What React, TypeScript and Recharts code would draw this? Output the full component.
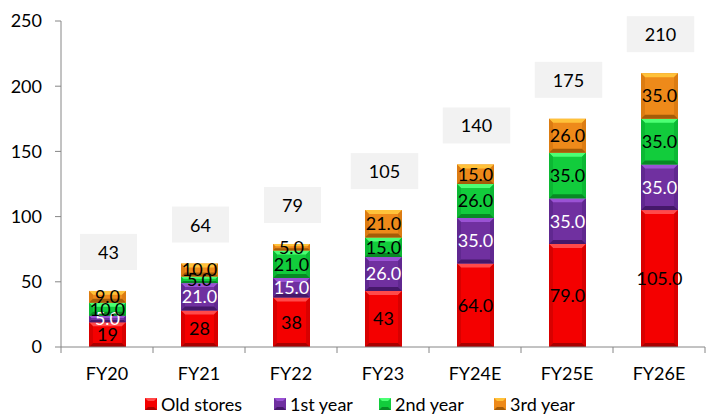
import React from "react";
import { BarChart, Bar, XAxis, YAxis, Legend, LabelList } from "recharts";

const categories = ["FY20", "FY21", "FY22", "FY23", "FY24E", "FY25E", "FY26E"];
const oldStores = [19, 28, 38, 43, 64, 79, 105];
const oldStoreLabels = ["19", "28", "38", "43", "64.0", "79.0", "105.0"];
const firstYear = [5, 21, 15, 26, 35, 35, 35];
const secondYear = [10, 5, 21, 15, 26, 35, 35];
const thirdYear = [9, 10, 5, 21, 15, 26, 35];
const totals = [43, 64, 79, 105, 140, 175, 210];
const yTicks = [0, 50, 100, 150, 200, 250];

const FONT = "Lato, 'Open Sans', sans-serif";

const data = categories.map((c, i) => ({
  name: c,
  old: oldStores[i],
  oldLabel: oldStoreLabels[i],
  y1: firstYear[i],
  y2: secondYear[i],
  y3: thirdYear[i],
  total: totals[i],
}));

interface Tone {
  main: string;
  light: string;
  side: string;
  dark: string;
}

const TONES: Record<string, Tone> = {
  old: { main: "#f40000", light: "#ff4a4a", side: "#d80000", dark: "#a80000" },
  y1: { main: "#7030a0", light: "#9a52d4", side: "#602890", dark: "#45186a" },
  y2: { main: "#12cc3c", light: "#4cff74", side: "#0cb834", dark: "#078a24" },
  y3: { main: "#ee8a1a", light: "#ffc23a", side: "#dc7c12", dark: "#a55c08" },
};

function bevel(tone: Tone) {
  return (props: any) => {
    const { x, y, width: w, height: h } = props;
    if (!h || h <= 0) return null;
    const b = Math.min(4, h / 3);
    return (
      <g>
        <rect x={x} y={y} width={w} height={h} fill={tone.main} />
        <polygon points={`${x},${y} ${x + w},${y} ${x + w - b},${y + b} ${x + b},${y + b}`} fill={tone.light} />
        <polygon points={`${x},${y} ${x + b},${y + b} ${x + b},${y + h - b} ${x},${y + h}`} fill={tone.side} />
        <polygon points={`${x + w},${y} ${x + w - b},${y + b} ${x + w - b},${y + h - b} ${x + w},${y + h}`} fill={tone.side} />
        <polygon points={`${x},${y + h} ${x + b},${y + h - b} ${x + w - b},${y + h - b} ${x + w},${y + h}`} fill={tone.dark} />
      </g>
    );
  };
}

function TotalLabel(props: any) {
  const { x, y, width, index } = props;
  const text = String(totals[index]);
  const bw = text.length * 10.5 + 36;
  const bh = 36;
  const cx = x + width / 2 + 1;
  const cy = y - 39;
  return (
    <g>
      <rect x={cx - bw / 2} y={cy - bh / 2} width={bw} height={bh} fill="#f2f2f2" />
      <text x={cx} y={cy} textAnchor="middle" dominantBaseline="central" fontSize={18} fontFamily={FONT} fill="#000">
        {text}
      </text>
    </g>
  );
}

function XTick(props: any) {
  const { x, y, payload, index } = props;
  const half = 46;
  return (
    <g>
      <line x1={x - half} x2={x - half} y1={y - 8} y2={y - 2} stroke="#868686" />
      {index === categories.length - 1 && (
        <line x1={x + half} x2={x + half} y1={y - 8} y2={y - 2} stroke="#868686" />
      )}
      <text x={x} y={y + 18} textAnchor="middle" dominantBaseline="central" fontSize={18} fontFamily={FONT} fill="#000">
        {payload.value}
      </text>
    </g>
  );
}

const legendItems = [
  { key: "old", label: "Old stores", w: 129 },
  { key: "y1", label: "1st year", w: 105 },
  { key: "y2", label: "2nd year", w: 115 },
  { key: "y3", label: "3rd year", w: 100 },
];

function LegendBox() {
  return (
    <div style={{ height: 39, position: "relative", fontFamily: FONT, fontSize: 18 }}>
      <div style={{ position: "absolute", left: 145, top: 16, display: "flex", alignItems: "center" }}>
        {legendItems.map((it) => {
          const t = TONES[it.key];
          return (
            <div key={it.key} style={{ width: it.w, display: "flex", alignItems: "center" }}>
              <svg width={12} height={12} style={{ marginRight: 4 }}>
                <rect x={0} y={0} width={12} height={12} fill={t.main} />
                <polygon points="0,0 12,0 9,3 3,3" fill={t.light} />
                <polygon points="0,12 3,9 9,9 12,12" fill={t.dark} />
              </svg>
              <span style={{ color: "#000", lineHeight: "22px" }}>{it.label}</span>
            </div>
          );
        })}
      </div>
    </div>
  );
}

export default function App() {
  return (
    <div style={{ position: "absolute", left: 0, top: 0, width: 708, height: 416, background: "#fff" }}>
      <BarChart
        width={708}
        height={416}
        data={data}
        margin={{ top: 21, right: 3, bottom: 0, left: 0 }}
        barSize={37}
      >
        <XAxis
          dataKey="name"
          height={30}
          axisLine={{ stroke: "#868686" }}
          tickLine={false}
          tick={<XTick />}
          interval={0}
        />
        <YAxis
          domain={[0, 250]}
          ticks={yTicks}
          width={61}
          axisLine={{ stroke: "#868686" }}
          tickLine={{ stroke: "#868686" }}
          tickSize={6}
          tickMargin={13}
          tick={{ fontSize: 18, fontFamily: FONT, fill: "#000" }}
        />
        <Legend verticalAlign="bottom" content={() => <LegendBox />} height={39} />
        <Bar dataKey="old" stackId="a" shape={bevel(TONES.old)} isAnimationActive={false}>
          <LabelList dataKey="oldLabel" position="center" fill="#000" fontSize={18} fontFamily={FONT} />
        </Bar>
        <Bar dataKey="y1" stackId="a" shape={bevel(TONES.y1)} isAnimationActive={false}>
          <LabelList dataKey="y1" position="center" fill="#fff" fontSize={18} fontFamily={FONT} formatter={(v: any) => Number(v).toFixed(1)} />
        </Bar>
        <Bar dataKey="y2" stackId="a" shape={bevel(TONES.y2)} isAnimationActive={false}>
          <LabelList dataKey="y2" position="center" fill="#000" fontSize={18} fontFamily={FONT} formatter={(v: any) => Number(v).toFixed(1)} />
        </Bar>
        <Bar dataKey="y3" stackId="a" shape={bevel(TONES.y3)} isAnimationActive={false}>
          <LabelList dataKey="y3" position="center" fill="#000" fontSize={18} fontFamily={FONT} formatter={(v: any) => Number(v).toFixed(1)} />
          <LabelList dataKey="total" content={<TotalLabel />} />
        </Bar>
      </BarChart>
    </div>
  );
}
